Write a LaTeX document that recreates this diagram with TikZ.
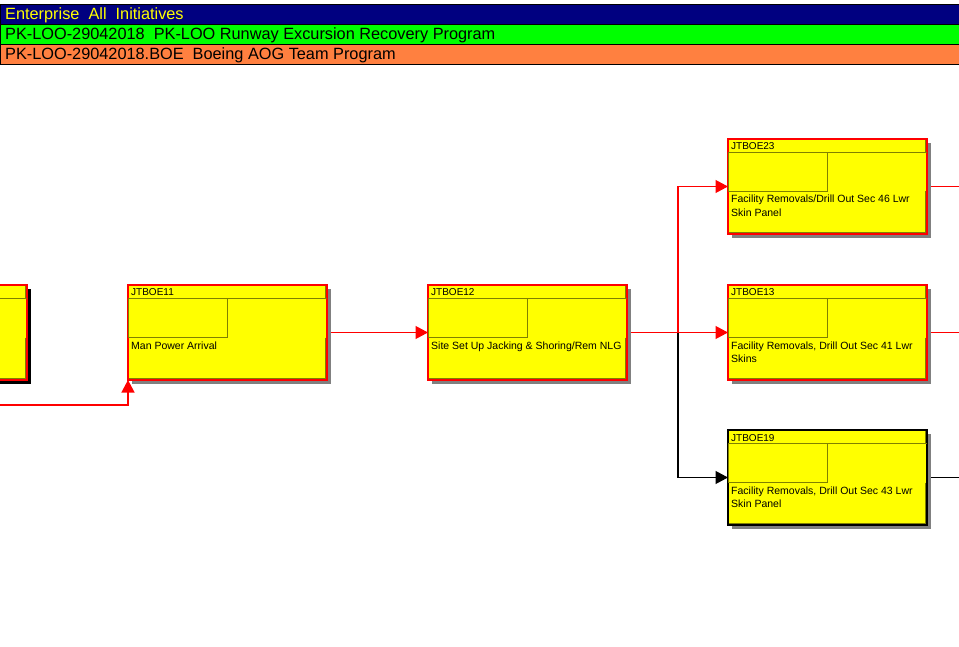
\documentclass[tikz,border=0pt]{standalone}
\usepackage{fontspec}
\setmainfont{Liberation Sans}
\usetikzlibrary{arrows.meta,shadows}
\pgfdeclarelayer{paper}
\pgfdeclarelayer{links}
\pgfsetlayers{paper,links,main}

\definecolor{navybar}{RGB}{0,0,128}
\definecolor{greenbar}{RGB}{0,255,0}
\definecolor{orangebar}{RGB}{255,128,64}
\definecolor{taskyellow}{RGB}{255,255,0}
\definecolor{cellolive}{RGB}{128,128,0}
\definecolor{linkred}{RGB}{255,0,0}

\tikzset{
  bar/.style={draw=black, line width=1pt},
  bartext/.style={anchor=base west, inner sep=0pt, font=\fontsize{16.3}{18}\selectfont},
  taskbox/.style={rectangle, anchor=north west, inner sep=0pt, outer sep=0pt,
    minimum width=199pt, minimum height=95pt, fill=taskyellow, line width=1.1pt},
  greyshadow/.style={drop shadow={shadow xshift=4pt, shadow yshift=-4pt, fill=black!50, opacity=1}},
  darkshadow/.style={drop shadow={shadow xshift=4pt, shadow yshift=-4pt, fill=black, opacity=1}},
  cell/.style={draw=cellolive, line width=0.9pt},
  idtext/.style={anchor=base west, inner sep=0pt, font=\fontsize{10}{12}\selectfont},
  desctext/.style={anchor=base west, inner sep=0pt,
    font=\fontsize{10.5}{13.5}\selectfont},
  tip/.style={-{Triangle[length=12.5pt,width=13pt]}},
  redlink/.style={draw=linkred, line width=1.2pt, tip},
  redplain/.style={draw=linkred, line width=1.2pt},
  blacklink/.style={draw=black, line width=1.2pt, tip},
  blackplain/.style={draw=black, line width=1.2pt},
}

% one activity box: name, x, y (top left), id, description, border colour, shadow style
\newcommand\activity[7]{%
  \node[taskbox, draw=#6, #7] (#1) at (#2,#3) {};
  \draw[cell] ([shift={(0,13.5)}]#1.north west) -- ([shift={(0,13.5)}]#1.north east);
  \draw[cell] ([shift={(-1.5,0.8)}]#1.north east) -- ([shift={(-1.5,13.5)}]#1.north east);
  \draw[cell] ([shift={(0,13.5)}]#1.north west) rectangle ([shift={(99,52.5)}]#1.north west);
  \draw[cell] ([shift={(-1.5,52.5)}]#1.north east) -- ([shift={(-1.5,-1.5)}]#1.south east)
              -- ([shift={(0.8,-1.5)}]#1.south west);
  \node[idtext] at ([shift={(3,11)}]#1.north west) {#4};
  \node[desctext] at ([shift={(3,64)}]#1.north west)
    {\renewcommand\arraystretch{1}\begin{tabular}[t]{@{}l@{}}#5\end{tabular}};
}

\begin{document}
\begin{tikzpicture}[x=1pt,y=-1pt]
\useasboundingbox (0,0) rectangle (959,647);
\clip (0,0) rectangle (959,647);
\begin{pgfonlayer}{paper}
  \fill[white] (0,0) rectangle (959,647);
\end{pgfonlayer}

% programme header bars
\draw[bar, fill=navybar]   (0.5,4.5) rectangle (962,25);
\draw[bar, fill=greenbar]  (0.5,25)  rectangle (962,45);
\draw[bar, fill=orangebar] (0.5,45)  rectangle (962,65);
\node[bartext, text=taskyellow] (hdrA) at (5,20) {Enterprise\ \ All\ \ Initiatives};
\node[bartext] (hdrB) at (5,39.5) {PK-LOO-29042018\ \ PK-LOO Runway Excursion Recovery Program};
\node[bartext] (hdrC) at (5,59.5) {PK-LOO-29042018.BOE\ \ Boeing AOG Team Program};

% activity boxes
\activity{jprev}{-172}{285}{}{}{linkred}{darkshadow}
\activity{j11}{128}{285}{JTBOE11}{Man Power Arrival}{linkred}{greyshadow}
\activity{j12}{428}{285}{JTBOE12}{Site Set Up Jacking \& Shoring/Rem NLG}{linkred}{greyshadow}
\activity{j23}{728}{139}{JTBOE23}{Facility Removals/Drill Out Sec 46 Lwr\\Skin Panel}{linkred}{greyshadow}
\activity{j13}{728}{285}{JTBOE13}{Facility Removals, Drill Out Sec 41 Lwr\\Skins}{linkred}{greyshadow}
\activity{j19}{728}{430}{JTBOE19}{Facility Removals, Drill Out Sec 43 Lwr\\Skin Panel}{black}{greyshadow}

% connector end points
\coordinate (inLeft) at (0,405);
\coordinate (split) at ([xshift=51pt]j12.east);
\coordinate (out23) at ([xshift=40pt]j23.east);
\coordinate (out13) at ([xshift=40pt]j13.east);
\coordinate (out19) at ([xshift=40pt]j19.east);

\begin{pgfonlayer}{links}
  \draw[redlink] (inLeft) -| (j11.south west);
  \draw[redlink] (j11.east) -- (j12.west);
  \draw[redplain] (j12.east) -- (split);
  \draw[redlink] (split) -- (j13.west);
  \draw[redlink] (split) |- (j23.west);
  \draw[blacklink] (split) |- (j19.west);
  \draw[redplain] (j23.east) -- (out23);
  \draw[redplain] (j13.east) -- (out13);
  \draw[blackplain] (j19.east) -- (out19);
\end{pgfonlayer}
\end{tikzpicture}
\end{document}
